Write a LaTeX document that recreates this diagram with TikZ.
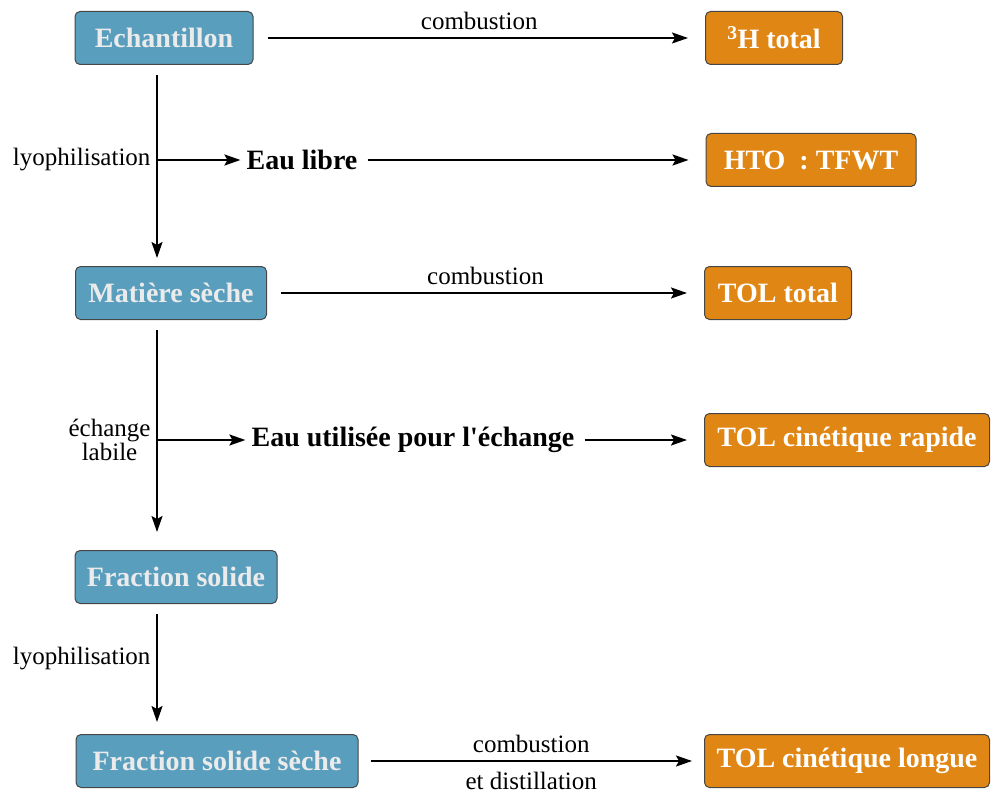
\documentclass[tikz,border=0pt]{standalone}
\usepackage{fontspec}
\setmainfont{Liberation Serif}
\usetikzlibrary{arrows.meta}
\usetikzlibrary{positioning}

\definecolor{stageblue}{RGB}{90,158,190}
\definecolor{resultorange}{RGB}{224,134,20}
\definecolor{boxline}{RGB}{70,70,70}

\begin{document}
\begin{tikzpicture}[x=1pt,y=-1pt,
                stage/.style={rectangle, rounded corners=5pt, draw=boxline, line width=1pt, fill=stageblue,
                    text=white!92!black, font=\fontsize{28}{32}\selectfont\bfseries,
                    minimum height=53pt, inner xsep=4pt},
                result/.style={stage, fill=resultorange, text=white},
                water/.style={font=\fontsize{28}{32}\selectfont\bfseries, inner sep=2pt},
                note/.style={font=\fontsize{25}{28}\selectfont},
                arrow/.style={draw, line width=2pt, -{Stealth[length=16pt,width=11pt,inset=3pt]}},
                hop/.style={arrow, shorten <=14pt, shorten >=17pt}
            ]
            \useasboundingbox (0,0) rectangle (992,794);
            % left column
            \node[stage, minimum width=178pt](ech) at (164,38){Echantillon};
            \node[stage, minimum width=191pt](mat) at (171,293){Matière sèche};
            \node[stage, minimum width=202pt](frac) at (176,577){Fraction solide};
            \node[stage, minimum width=282pt](fss) at (217,761){Fraction solide sèche};
            % water
            \node[water](libre) at (302,160){Eau libre};
            \node[water](echw) at (413,440){Eau utilisée pour l\textquotesingle échange};
            % results
            \node[result, minimum width=137pt](h3) at (774,38){\textsuperscript{3}H total};
            \node[result, minimum width=210pt](hto) at (811,160){HTO~~:\ TFWT};
            \node[result, minimum width=147pt](tol) at (778,293){TOL total};
            \node[result, minimum width=285pt](rap) at (847,440){TOL cinétique rapide};
            \node[result, minimum width=285pt](lng) at (847,761){TOL cinétique longue};
            % branch points
            \coordinate(spine) at (157,0);
            \coordinate(b1) at (157,160);
            \coordinate(b2) at (157,440);
            \coordinate(b3) at (157,659);
            % vertical
            \path[arrow, shorten <=10pt, shorten >=8pt] (ech.south -| spine) -- (mat.north -| spine);
            \path[arrow, shorten <=10pt, shorten >=18pt] (mat.south -| spine) -- (frac.north -| spine);
            \path[arrow, shorten <=10pt, shorten >=12pt] (frac.south -| spine) -- (fss.north -| spine);
            \node[note, left=3pt of b1](lyo1){lyophilisation};
            \node[note, left=3pt of b2, align=center](lab){échange\\[-4pt]labile};
            \node[note, left=3pt of b3](lyo2){lyophilisation};
            \path[arrow, shorten >=4pt] (b1) -- (libre.west);
            \path[arrow, shorten >=4pt] (b2) -- (echw.west);
            % horizontal
            \path[hop] (ech) -- node[note, above=4pt]{combustion} (h3);
            \path[hop, shorten <=8pt] (libre) -- (hto);
            \path[hop] (mat) -- node[note, above=4pt]{combustion} (tol);
            \path[hop, shorten <=8pt] (echw) -- (rap);
            \path[hop, shorten <=12pt, shorten >=12pt] (fss) -- node[note, above=4pt]{combustion} node[note, below=7pt]{et distillation} (lng);
        \end{tikzpicture}
\end{document}
